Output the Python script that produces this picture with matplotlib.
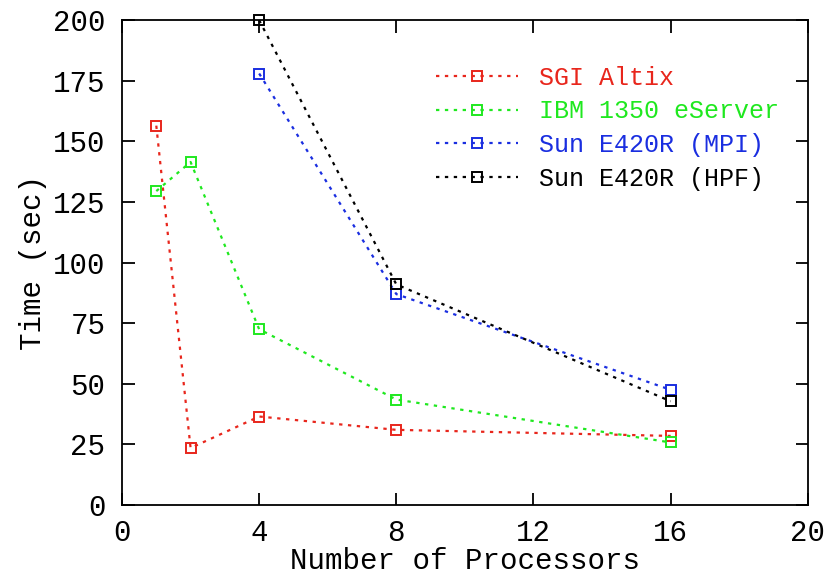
import matplotlib
matplotlib.use('Agg')
import matplotlib.pyplot as plt

# processor counts and timings (sec)
sgi_x = [1, 2, 4, 8, 16]
sgi_t = [156.5, 23.5, 36.5, 31, 28.5]

ibm_x = [1, 2, 4, 8, 16]
ibm_t = [129.5, 141.5, 72.5, 43.5, 25.8]

mpi_x = [4, 8, 16]
mpi_t = [178, 87, 47.5]

hpf_x = [4, 8, 16]
hpf_t = [200, 91, 42.8]

series = [
    ('SGI Altix', sgi_x, sgi_t, '#e8261c'),
    ('IBM 1350 eServer', ibm_x, ibm_t, '#1fe81f'),
    ('Sun E420R (MPI)', mpi_x, mpi_t, '#1a2ee0'),
    ('Sun E420R (HPF)', hpf_x, hpf_t, '#000000'),
]

plt.rcParams['font.family'] = 'Liberation Mono'
fs = 21

fig = plt.figure(figsize=(8.26, 5.77), dpi=100)
ax = fig.add_axes([0.1477, 0.1248, 0.8303, 0.8402])

for name, x, t, c in series:
    ax.plot(x, t, color=c, linestyle=(0, (1.5, 2.5)), linewidth=1.6,
            marker='s', markersize=7, markerfacecolor='none',
            markeredgewidth=1.4, label=name, clip_on=False)

ax.set_xlim(0, 20)
ax.set_ylim(0, 200)
ax.set_xticks([0, 4, 8, 12, 16, 20])
ax.set_yticks(range(0, 201, 25))
ax.tick_params(direction='in', length=9, width=1.3, top=True, right=True,
               labelsize=fs)
ax.tick_params(axis='y', pad=12)
ax.tick_params(axis='x', pad=10)
for s in ax.spines.values():
    s.set_linewidth(1.3)

ax.set_xlabel('Number of Processors', fontsize=fs, labelpad=0)
ax.set_ylabel('Time (sec)', fontsize=fs, labelpad=4)

leg = ax.legend(loc='upper left', bbox_to_anchor=(0.439, 0.932), frameon=False,
                fontsize=18, handlelength=3.3, handletextpad=0.85,
                labelspacing=0.39, numpoints=1, borderpad=0)
for txt, (_, _, _, c) in zip(leg.get_texts(), series):
    txt.set_color(c)

fig.savefig('out.png', dpi=100)
